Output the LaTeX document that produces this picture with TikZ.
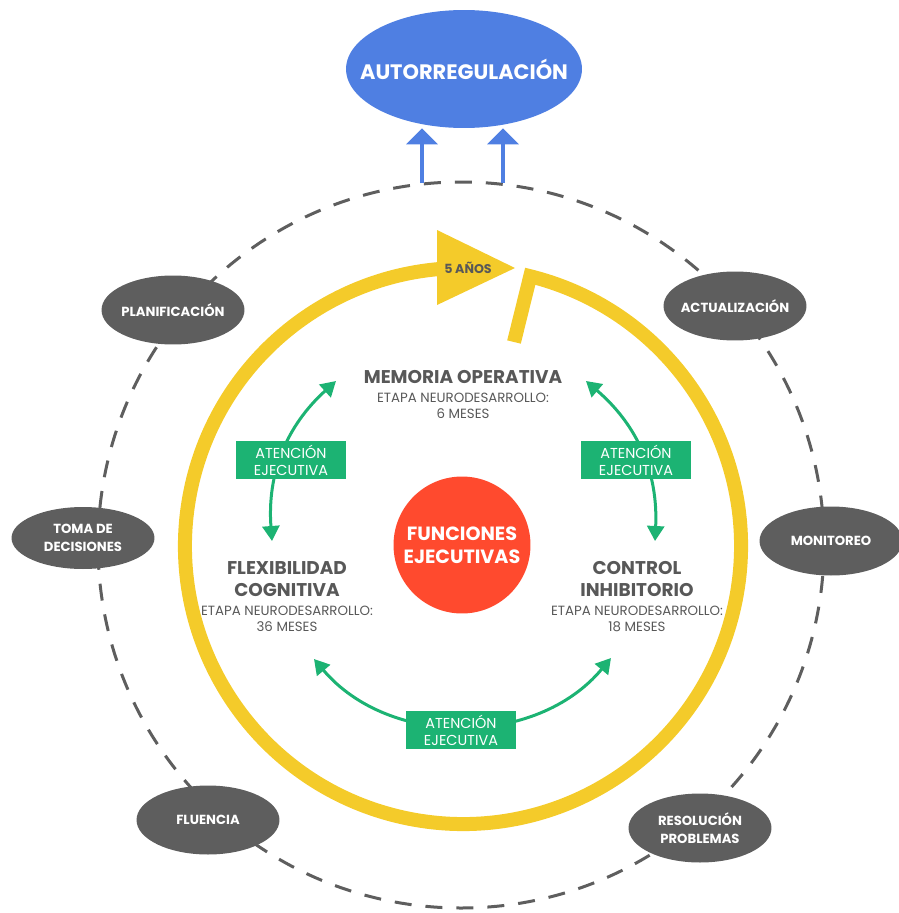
\documentclass[tikz,border=0pt]{standalone}
\usepackage{fontspec}
\setmainfont{Poppins}
\usetikzlibrary{arrows.meta, positioning, shapes.geometric}
\definecolor{autoblue}{HTML}{4F7FE2}
\definecolor{ringyellow}{HTML}{F4CB2A}
\definecolor{attgreen}{HTML}{1CB373}
\definecolor{corered}{HTML}{FF4A2E}
\definecolor{bubblegray}{HTML}{5E5E5E}
\definecolor{textgray}{HTML}{585858}
\tikzset{
  ring/.style = {draw=bubblegray, line width=0.06cm,
    dash pattern=on 0.34cm off 0.28cm},
  bubble/.style = {ellipse, fill=bubblegray, text=white, align=center,
    inner sep=0pt, inner xsep=-0.4cm, minimum width=2.86cm, minimum height=1.38cm,
    font=\bfseries\fontsize{7.5}{10.2}\selectfont},
  goal/.style = {ellipse, fill=autoblue, text=white, inner sep=0pt,
    inner xsep=-1.5cm, minimum width=4.72cm, minimum height=2.36cm,
    font=\bfseries\fontsize{11.9}{13}\selectfont},
  core/.style = {circle, fill=corered, text=white, align=center,
    inner sep=0pt, minimum size=2.74cm,
    font=\bfseries\fontsize{10.9}{13}\selectfont},
  yring/.style = {draw=ringyellow, line width=0.28cm},
  upflow/.style = {draw=autoblue, line width=0.09cm,
    -{Triangle[length=0.32cm, width=0.62cm]}},
  attflow/.style = {draw=attgreen, line width=0.06cm, <->},
  attbox/.style = {rectangle, fill=attgreen, text=white, align=center,
    inner sep=0pt, minimum width=2.22cm, minimum height=0.76cm,
    font=\fontsize{8.2}{9.6}\selectfont},
  efname/.style = {text=textgray, align=center, inner sep=0pt,
    font=\bfseries\fontsize{10.5}{12.5}\selectfont},
  efstage/.style = {text=textgray, align=center, inner sep=0pt,
    font=\fontsize{7.6}{9.1}\selectfont}
}

\begin{document}
\begin{tikzpicture}[x=0.02cm, y=-0.02cm, >={Triangle[length=0.3cm, width=0.34cm]}]
\useasboundingbox (0,0) rectangle (899,913);
% outer ring of processes
\draw[ring] (461,545) circle[radius=363];
\node[bubble] (plan) at (173,310) {PLANIFICACIÓN};
\node[bubble] (actu) at (735,306) {ACTUALIZACIÓN};
\node[bubble, minimum height=1.24cm] (toma) at (83,538) {TOMA DE\\DECISIONES};
\node[bubble] (moni) at (831,541) {MONITOREO};
\node[bubble] (flue) at (208,820) {FLUENCIA};
\node[bubble] (reso) at (700,828) {RESOLUCIÓN\\PROBLEMAS};

% goal
\node[goal] (auto) at (464,69) {AUTORREGULACIÓN};
\coordinate (up1) at (422,183);
\coordinate (up2) at (503,183);
\draw[upflow] (up1) -- (up1 |- auto.south);
\draw[upflow] (up2) -- (up2 |- auto.south);

% yellow development ring
\coordinate (yc) at (463,546);
\draw[yring, line join=miter] (514,342) -- ([shift={(-76:278)}]yc)
  arc[start angle=-76, end angle=266, radius=278];
\fill[ringyellow] (437,230) -- (515,268) -- (437,305) -- cycle;
\node[efstage, font=\bfseries\fontsize{7.2}{8}\selectfont] (anos) at (468,268) {5 AÑOS};

% core
\node[core] (fe) at (462,545) {FUNCIONES\\EJECUTIVAS};

% executive functions
\node[efname] (mo) at (463,377) {MEMORIA OPERATIVA};
\node[efstage, below=5pt of mo] (mo-st) {ETAPA NEURODESARROLLO:\\6 MESES};
\node[efname] (fc) at (287,579) {FLEXIBILIDAD\\COGNITIVA};
\node[efstage, below=5pt of fc] (fc-st) {ETAPA NEURODESARROLLO:\\36 MESES};
\node[efname] (ci) at (637,579) {CONTROL\\INHIBITORIO};
\node[efstage, below=5pt of ci] (ci-st) {ETAPA NEURODESARROLLO:\\18 MESES};

% attention links
\coordinate (mo-l) at (336,381);
\coordinate (mo-r) at (586,381);
\coordinate (fc-t) at (272,541);
\coordinate (ci-t) at (655,541);
\coordinate (fc-b) at (314,659);
\coordinate (ci-b) at (611,658);
\draw[attflow] (fc-t) to[bend left=26] (mo-l);
\draw[attflow] (ci-t) to[bend right=26] (mo-r);
\draw[attflow] (fc-b) to[bend right=50] (ci-b);
\node[attbox] (att-l) at (291,460) {ATENCIÓN\\EJECUTIVA};
\node[attbox] (att-r) at (636,460) {ATENCIÓN\\EJECUTIVA};
\node[attbox] (att-b) at (461,730) {ATENCIÓN\\EJECUTIVA};
\end{tikzpicture}
\end{document}
